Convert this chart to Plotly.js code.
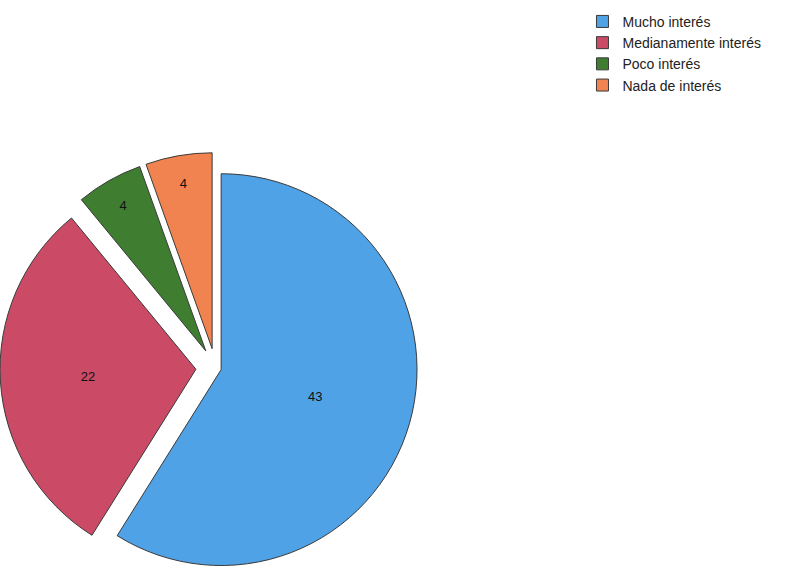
<!DOCTYPE html>
<html>
<head>
<meta charset="utf-8">
<script src="https://cdn.plot.ly/plotly-3.0.1.min.js"></script>
<style>html,body{margin:0;padding:0;background:#fff;}#chart{width:785px;height:585px;}</style>
</head>
<body>
<div id="chart"></div>
<script>
var categories = ["Mucho interés", "Medianamente interés", "Poco interés", "Nada de interés"];
var values = [43, 22, 4, 4];
var colors = ["#4fa2e6", "#cb4a65", "#3f7e30", "#f0834f"];
var pulls = [0.03, 0.1, 0.1, 0.1];

var trace = {
  type: "pie",
  labels: categories,
  values: values,
  sort: false,
  direction: "clockwise",
  rotation: 0,
  pull: pulls,
  marker: {colors: colors, line: {color: "#3a3a3a", width: 1}},
  textinfo: "value",
  textposition: "inside",
  insidetextorientation: "horizontal",
  insidetextfont: {color: "#111", size: 13, family: "Liberation Sans, Arial, sans-serif"},
  hoverinfo: "label+value",
  domain: {x: [0, 0.549], y: [0.0024, 0.7395]}
};

var layout = {
  width: 785, height: 585,
  margin: {l: 0, r: 0, t: 0, b: 0},
  paper_bgcolor: "#ffffff",
  showlegend: true,
  legend: {
    x: 0.742, y: 0.99, xanchor: "left", yanchor: "top",
    font: {family: "Liberation Sans, Arial, sans-serif", size: 14, color: "#222"},
    bgcolor: "rgba(0,0,0,0)",
    tracegroupgap: 0
  },
  font: {family: "Liberation Sans, Arial, sans-serif"}
};

Plotly.newPlot("chart", [trace], layout, {displayModeBar: false, staticPlot: true});
</script>
</body>
</html>
